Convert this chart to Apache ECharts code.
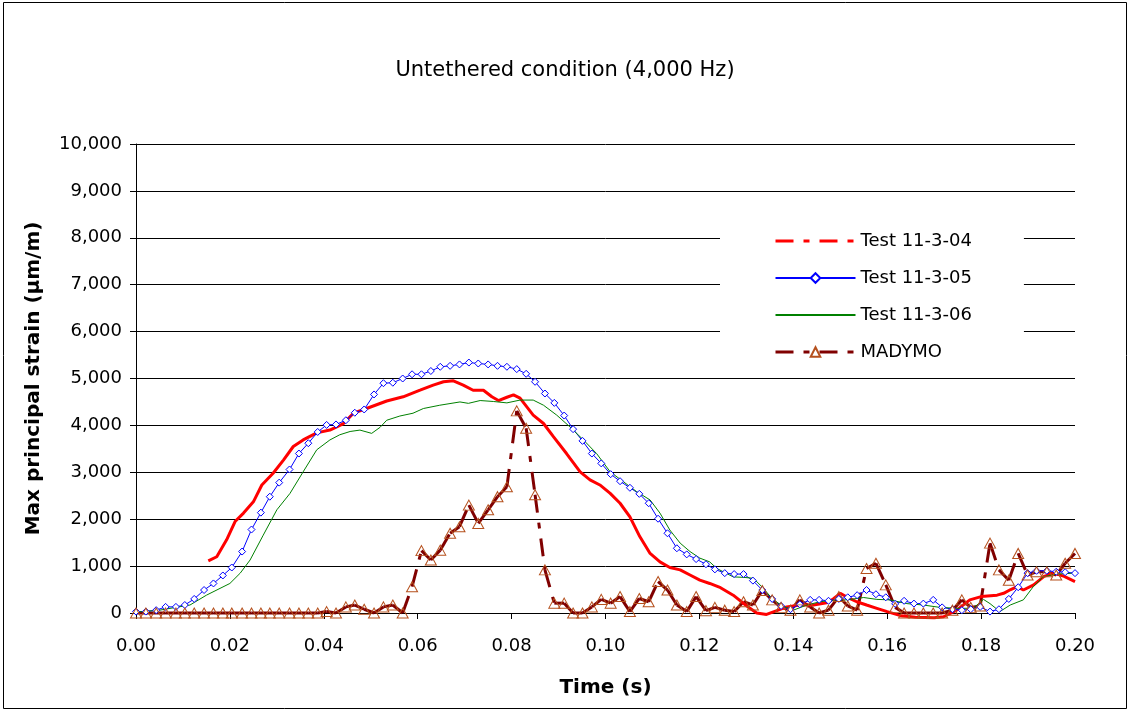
<!DOCTYPE html>
<html><head><meta charset="utf-8">
<script src="https://cdn.jsdelivr.net/npm/echarts/dist/echarts.min.js"></script>
<style>html,body{margin:0;padding:0;background:#fff}#c{width:1130px;height:711px}</style>
</head><body><div id="c"></div>
<script>
// Sample times (s) of the marker series (Test 11-3-05 and MADYMO)
const time = [0.0000,0.0021,0.0043,0.0063,0.0085,0.0104,0.0124,0.0145,0.0165,0.0185,0.0204,0.0226,0.0246,0.0266,0.0285,0.0305,0.0327,0.0347,0.0367,0.0387,
0.0406,0.0426,0.0447,0.0466,0.0486,0.0507,0.0527,0.0547,0.0568,0.0588,0.0608,0.0628,0.0648,0.0669,0.0689,0.0709,0.0729,0.0750,0.0770,0.0790,
0.0811,0.0831,0.0850,0.0871,0.0891,0.0912,0.0931,0.0951,0.0971,0.0991,0.1011,0.1031,0.1052,0.1072,0.1092,0.1112,0.1132,0.1152,0.1173,0.1193,
0.1214,0.1233,0.1254,0.1274,0.1294,0.1314,0.1334,0.1355,0.1374,0.1394,0.1414,0.1436,0.1455,0.1475,0.1497,0.1516,0.1536,0.1556,0.1576,0.1597,
0.1617,0.1636,0.1657,0.1677,0.1698,0.1717,0.1739,0.1759,0.1778,0.1798,0.1819,0.1838,0.1859,0.1879,0.1899,0.1918,0.1940,0.1960,0.1979,0.2000];

const strain05 = [30,30,60,130,130,170,300,490,630,800,970,1310,1780,2140,2480,2780,3060,3400,3620,3860,
4010,4020,4110,4270,4340,4660,4900,4910,5000,5090,5090,5160,5250,5270,5300,5340,5320,5300,5270,5250,
5200,5100,4930,4680,4480,4210,3920,3670,3400,3190,2960,2810,2670,2540,2340,2010,1700,1380,1250,1150,
1040,930,850,830,830,690,490,300,150,80,185,280,280,260,300,335,380,490,400,335,
195,260,200,200,280,120,80,60,80,130,30,80,300,550,850,900,900,880,870,850];

const madymo = [0,0,0,0,0,0,0,0,0,0,0,0,0,0,0,0,0,0,0,0,
30,0,130,170,80,0,130,170,0,560,1330,1130,1340,1700,1840,2300,1910,2200,2480,2690,
4310,3940,2520,920,210,210,0,0,130,290,210,350,30,310,240,670,490,170,30,350,
50,120,60,30,240,170,480,280,120,60,280,130,0,60,350,150,60,950,1060,600,
120,0,0,0,0,0,60,280,120,150,1490,920,700,1270,810,880,880,810,1060,1270];

// Test 11-3-04 (dense trace, read at turning points)
const time04 = [0.0154,0.0172,0.0193,0.0211,0.0229,0.0250,0.0268,0.0292,0.0314,0.0335,0.0356,0.0385,0.0413,0.0442,0.0463,0.0491,0.0534,0.0569,0.0605,0.0633,
0.0655,0.0676,0.0697,0.0718,0.0740,0.0758,0.0772,0.0790,0.0804,0.0818,0.0846,0.0868,0.0889,0.0917,0.0946,0.0967,0.0988,0.1010,0.1031,0.1052,
0.1073,0.1095,0.1116,0.1137,0.1159,0.1180,0.1201,0.1222,0.1245,0.1272,0.1301,0.1322,0.1343,0.1365,0.1386,0.1414,0.1443,0.1471,0.1485,0.1500,
0.1514,0.1535,0.1556,0.1578,0.1600,0.1630,0.1660,0.1700,0.1720,0.1748,0.1776,0.1800,0.1834,0.1848,0.1863,0.1877,0.1890,0.1912,0.1934,0.1955,
0.1977,0.2000];
const strain04 = [1110,1200,1560,1950,2130,2370,2730,2980,3260,3550,3690,3840,3900,4040,4260,4360,4520,4610,4750,4860,
4930,4950,4860,4750,4750,4610,4530,4600,4650,4580,4220,4040,3760,3400,3010,2840,2730,2550,2340,2050,
1630,1270,1090,970,920,810,700,630,540,380,150,0,-30,50,130,170,170,220,300,420,
340,240,170,100,30,-60,-90,-100,-80,60,280,350,380,420,500,560,490,600,780,850,
780,670];

// Test 11-3-06
const time06 = [0.0000,0.0050,0.0085,0.0115,0.0150,0.0200,0.0222,0.0243,0.0271,0.0300,0.0328,0.0356,0.0385,0.0413,0.0434,0.0456,0.0477,0.0502,0.0520,0.0534,
0.0562,0.0590,0.0612,0.0647,0.0690,0.0708,0.0733,0.0761,0.0790,0.0818,0.0846,0.0868,0.0896,0.0924,0.0953,0.0981,0.1010,0.1038,0.1066,0.1095,
0.1116,0.1137,0.1159,0.1180,0.1201,0.1222,0.1237,0.1272,0.1294,0.1315,0.1336,0.1357,0.1379,0.1400,0.1429,0.1457,0.1492,0.1514,0.1550,0.1578,
0.1606,0.1642,0.1677,0.1712,0.1748,0.1783,0.1805,0.1819,0.1840,0.1862,0.1890,0.1911,0.1932,0.1961,0.2000];
const strain06 = [20,60,120,170,380,630,850,1130,1660,2200,2550,3010,3480,3690,3800,3870,3900,3830,3960,4110,
4200,4260,4360,4430,4500,4470,4530,4510,4480,4540,4540,4430,4220,3970,3690,3400,3010,2800,2590,2410,
2130,1770,1490,1310,1170,1090,950,770,760,740,530,280,140,60,170,240,280,280,330,290,
280,200,170,120,100,100,290,200,30,170,280,560,770,830,850];

const seriesNames = ['Test 11-3-04','Test 11-3-05','Test 11-3-06','MADYMO'];

const FONT = 'DejaVu Sans';
const DASH = [18,10,6,10];
const zip = (a,b)=>a.map((t,i)=>[t,b[i]]);
const segs = madymo.slice(0,-1).map((v,i)=>[time[i],v,time[i+1],madymo[i+1]]);

const chart = echarts.init(document.getElementById('c'), null, {renderer:'canvas'});
chart.setOption({
  animation:false,
  backgroundColor:'#fff',
  title:{text:'Untethered condition (4,000 Hz)', left:'center', top:55,
    textStyle:{fontFamily:FONT, fontSize:21, fontWeight:'normal', color:'#000'}},
  grid:{left:136, right:55, top:144, bottom:98, containLabel:false, outerBoundsMode:'none'},
  legend:{orient:'vertical', left:720, top:223, padding:[9,52,9,54], itemWidth:80, itemHeight:12, itemGap:19,
    backgroundColor:'#fff', selectedMode:false,
    textStyle:{fontFamily:FONT, fontSize:18, color:'#000'},
    data:[
      {name:seriesNames[0], lineStyle:{color:'#ff0000', width:3, type:DASH, opacity:1}, itemStyle:{opacity:0}},
      {name:seriesNames[1]},
      {name:seriesNames[2], itemStyle:{opacity:0}},
      {name:seriesNames[3], lineStyle:{color:'#800000', width:3, type:DASH, opacity:1}}
    ]},
  xAxis:{type:'value', min:0, max:0.2, interval:0.02,
    axisLine:{show:true, onZero:false, lineStyle:{color:'#000', width:1}},
    axisTick:{show:true, inside:false, length:6, lineStyle:{color:'#000'}},
    axisLabel:{formatter:v=>v.toFixed(2), fontFamily:FONT, fontSize:18, color:'#000', margin:24, hideOverlap:false, showMinLabel:true, showMaxLabel:true},
    splitLine:{show:false},
    name:'Time (s)', nameLocation:'middle', nameGap:65,
    nameTextStyle:{fontFamily:FONT, fontSize:20, fontWeight:'bold', color:'#000'}},
  yAxis:{type:'value', min:0, max:10000, interval:1000,
    axisLine:{show:true, lineStyle:{color:'#000', width:1}},
    axisTick:{show:true, inside:false, length:6, lineStyle:{color:'#000'}},
    axisLabel:{formatter:v=>v.toLocaleString('en-US'), fontFamily:FONT, fontSize:18, color:'#000', margin:14, hideOverlap:false},
    splitLine:{show:true, lineStyle:{color:'#000', width:1}},
    name:'Max principal strain (µm/m)', nameLocation:'middle', nameGap:92,
    nameTextStyle:{fontFamily:FONT, fontSize:20, fontWeight:'bold', color:'#000'}},
  graphic:[{type:'rect', z:-10, silent:true, shape:{x:3.5, y:2.5, width:1123, height:706},
    style:{fill:'none', stroke:'#000', lineWidth:1}}],
  series:[
    {type:'line', name:seriesNames[0], data:zip(time04,strain04), symbol:'none', clip:false,
      lineStyle:{color:'#ff0000', width:3}, itemStyle:{color:'#ff0000'}},
    {type:'line', name:seriesNames[1], data:zip(time,strain05), symbol:'diamond', symbolSize:7,
      lineStyle:{color:'#0000ff', width:1}, itemStyle:{color:'#ffffff', borderColor:'#0000ff', borderWidth:1}},
    {type:'line', name:seriesNames[2], data:zip(time06,strain06), symbol:'none',
      lineStyle:{color:'#008000', width:1}, itemStyle:{color:'#008000'}},
    {type:'custom', name:'MADYMO segments', data:segs, silent:true, clip:false,
      encode:{x:[0,2], y:[1,3]},
      renderItem:(params, api)=>{
        const p0 = api.coord([api.value(0), api.value(1)]);
        const p1 = api.coord([api.value(2), api.value(3)]);
        return {type:'line', shape:{x1:p0[0], y1:p0[1], x2:p1[0], y2:p1[1]},
          style:{stroke:'#800000', lineWidth:3, lineDash:DASH, lineCap:'butt', fill:null}};
      }},
    {type:'line', name:seriesNames[3], data:zip(time,madymo), symbol:'triangle', symbolSize:[11,10],
      lineStyle:{color:'#800000', width:3, opacity:0},
      itemStyle:{color:'rgba(255,255,255,0)', borderColor:'#b5501d', borderWidth:1}}
  ]
});
</script></body></html>
